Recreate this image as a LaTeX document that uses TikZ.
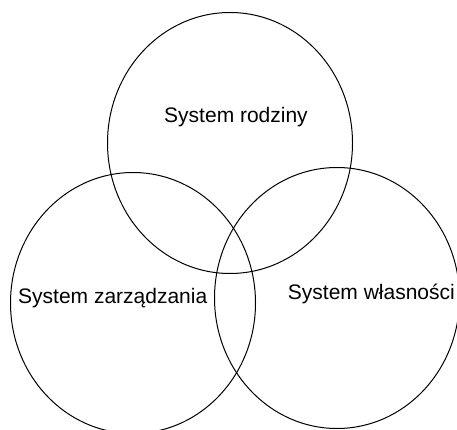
\documentclass[tikz,border=0pt]{standalone}
\usepackage{fontspec}
\setmainfont{Liberation Sans}
\usetikzlibrary{shapes.geometric}
\tikzset{ring/.style={draw,black,line width=1pt,ellipse,inner sep=0pt,minimum width=245pt,minimum height=261pt},
         label/.style={font=\fontsize{21}{24}\selectfont,inner sep=0pt}}
\begin{document}
\begin{tikzpicture}[x=1pt,y=-1pt]
            \useasboundingbox (0,0) rectangle (457,430);
            \clip (0,0) rectangle (457,430);
            \node[ring] (rodzina) at (230,143) {};
            \node[ring] (zarzad) at (133,303) {};
            \node[ring] (wlasnosc) at (337,298) {};
            \node[label,anchor=base] (trodzina) at (236,123) {System rodziny};
            \node[label,anchor=base west] (tzarzad) at (18,303) {System zarządzania};
            \node[label,anchor=base east] (twlasnosc) at (455,299) {System własności};
          \end{tikzpicture}
\end{document}
